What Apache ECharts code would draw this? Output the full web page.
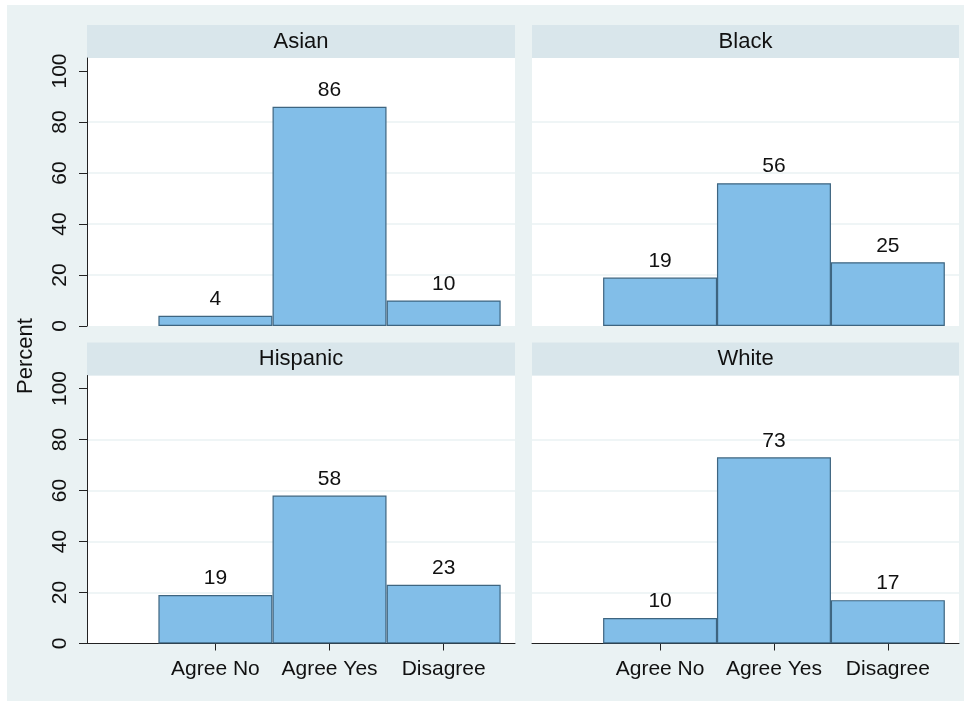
<!DOCTYPE html>
<html>
<head>
<meta charset="utf-8">
<script src="https://cdn.jsdelivr.net/npm/echarts@6/dist/echarts.min.js"></script>
<style>
    body { margin: 0; background: #fff; }
    #bg { position: absolute; left: 7px; top: 5px; width: 957px; height: 696px; background: #EAF2F3; }
    #main { position: absolute; left: 0; top: 0; width: 964px; height: 701px; }
</style>
</head>
<body>
<div id="bg"></div>
<div id="main"></div>
<script type="text/javascript">
    var categories = ['Agree No', 'Agree Yes', 'Disagree'];
    var groups = ['Asian', 'Black', 'Hispanic', 'White'];
    var asianData = [4, 86, 10];
    var blackData = [19, 56, 25];
    var hispanicData = [19, 58, 23];
    var whiteData = [10, 73, 17];
    var yTicks = [0, 20, 40, 60, 80, 100];
    var xTicks = [1, 2, 3];

    var font = "'Liberation Sans', Arial, sans-serif";
    var myChart = echarts.init(document.getElementById('main'));

    var panels = [
        { left: 87, top: 58, width: 428, height: 268, head: 25 },
        { left: 532, top: 58, width: 427, height: 268, head: 25 },
        { left: 87, top: 375.5, width: 428, height: 268, head: 342.5 },
        { left: 532, top: 375.5, width: 427, height: 268, head: 342.5 }
    ];
    var values = [asianData, blackData, hispanicData, whiteData];

    var grids = [], xAxes = [], yAxes = [], series = [], graphics = [];
    panels.forEach(function (p, i) {
        var isLeft = i % 2 === 0;
        var isBottom = i >= 2;
        grids.push({
            left: p.left, top: p.top, width: p.width, height: p.height,
            show: true, backgroundColor: '#fff', borderWidth: 0,
            outerBoundsMode: 'none'
        });
        xAxes.push({
            gridIndex: i,
            type: 'value',
            min: -0.125,
            max: 3.625,
            splitLine: { show: false },
            axisLine: { show: isBottom, onZero: false, lineStyle: { color: '#222', width: 1 } },
            axisTick: { show: isBottom, customValues: xTicks, length: 7, lineStyle: { color: '#222' } },
            axisLabel: {
                show: isBottom,
                customValues: xTicks,
                margin: 15,
                fontSize: 21,
                fontFamily: font,
                color: '#111',
                formatter: function (v) { return categories[v - 1] || ''; }
            }
        });
        yAxes.push({
            gridIndex: i,
            type: 'value',
            min: 0,
            max: 105.1,
            axisLine: { show: isLeft, onZero: false, lineStyle: { color: '#222', width: 1 } },
            axisTick: { show: isLeft, customValues: yTicks, length: 8, lineStyle: { color: '#222' } },
            axisLabel: {
                show: isLeft,
                customValues: yTicks,
                rotate: 90,
                margin: 16,
                fontSize: 21,
                fontFamily: font,
                color: '#111'
            },
            splitLine: {
                show: true,
                showMinLine: false,
                showMaxLine: false,
                lineStyle: { color: '#EAF2F3', width: 1.5 }
            }
        });
        series.push({
            type: 'bar',
            xAxisIndex: i,
            yAxisIndex: i,
            barWidth: 114,
            itemStyle: { color: '#82BEE8', borderColor: '#3E6580', borderWidth: 1.2 },
            label: {
                show: true,
                position: 'top',
                distance: 6,
                fontSize: 21,
                fontFamily: font,
                color: '#111',
                formatter: function (d) { return d.value[1]; }
            },
            data: values[i].map(function (v, j) { return [xTicks[j], v]; })
        });
        graphics.push({
            type: 'rect',
            shape: { x: p.left, y: p.head, width: p.width, height: p.top - p.head },
            style: { fill: '#D9E6EB' }
        });
        graphics.push({
            type: 'text',
            x: p.left + p.width / 2,
            y: p.head + (p.top - p.head) / 2,
            style: {
                text: groups[i],
                fill: '#111',
                font: '22px ' + font,
                align: 'center',
                verticalAlign: 'middle'
            }
        });
    });

    graphics.push({
        type: 'text',
        x: 26,
        y: 356,
        rotation: Math.PI / 2,
        style: {
            text: 'Percent',
            fill: '#111',
            font: '22px ' + font,
            align: 'center',
            verticalAlign: 'middle'
        }
    });

    var option = {
        animation: false,
        backgroundColor: 'transparent',
        grid: grids,
        xAxis: xAxes,
        yAxis: yAxes,
        graphic: graphics,
        series: series
    };
    myChart.setOption(option);
</script>
</body>
</html>
